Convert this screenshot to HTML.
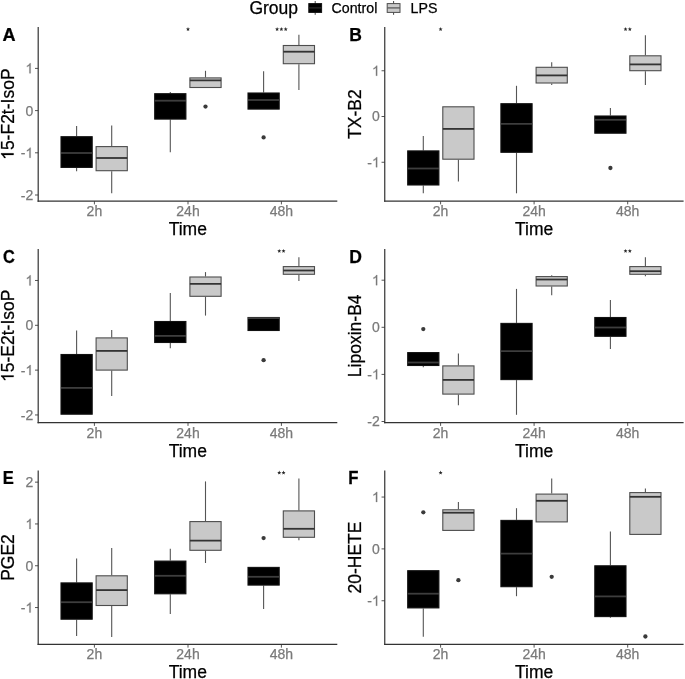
<!DOCTYPE html>
<html><head><meta charset="utf-8"><title>Box plots</title>
<style>
html,body{margin:0;padding:0;background:#fff;}
body{width:685px;height:679px;overflow:hidden;}
svg{display:block;font-family:"Liberation Sans", sans-serif;}
svg{filter:grayscale(1);}
text{stroke-width:0.25px;}
</style></head>
<body>
<svg width="685" height="679" viewBox="0 0 685 679">
<rect width="685" height="679" fill="#ffffff"/>
<text x="249.4" y="14.2" font-size="17.5" fill="#000" stroke="#000">Group</text>
<line x1="315.2" y1="1" x2="315.2" y2="14.8" stroke="#444" stroke-width="1"/><rect x="308.8" y="3.6" width="12.8" height="8.8" fill="#000" stroke="#111111" stroke-width="1"/><line x1="308.8" y1="7.9" x2="321.6" y2="7.9" stroke="#262626" stroke-width="1.3"/>
<text x="331.6" y="12.9" font-size="14.2" fill="#000" stroke="#000">Control</text>
<line x1="393.6" y1="1" x2="393.6" y2="14.8" stroke="#444" stroke-width="1"/><rect x="387.2" y="3.6" width="12.8" height="8.8" fill="#c9c9c9" stroke="#4d4d4d" stroke-width="1"/><line x1="387.2" y1="7.9" x2="400" y2="7.9" stroke="#5a5a5a" stroke-width="1.3"/>
<text x="410.6" y="12.9" font-size="14.2" fill="#000" stroke="#000">LPS</text>
<text x="0" y="0" transform="translate(2.59,40.6) scale(1.035,1)" font-size="17.5" font-weight="bold" fill="#000" stroke="#000">A</text><g transform="translate(13.6,114.15) rotate(-90)"><path d="M763,0 L583,0 L583,1147 Q518,1085 412,1023 Q306,961 222,930 L222,1104 Q373,1175 486,1276 Q599,1377 646,1472 L763,1472 Z" transform="translate(-45.711,0.000) scale(0.008545,-0.008545)" fill="#000" stroke="#000" stroke-width="29.3" stroke-linejoin="round"/><text x="-35.98" y="0" font-size="17.5" fill="#000" stroke="#000">5-F2t-IsoP</text></g><text x="187.75" y="235.1" text-anchor="middle" font-size="17.5" fill="#000" stroke="#000">Time</text><line x1="35" y1="68.4" x2="38.2" y2="68.4" stroke="#555555" stroke-width="1.0"/><path d="M763,0 L583,0 L583,1147 Q518,1085 412,1023 Q306,961 222,930 L222,1104 Q373,1175 486,1276 Q599,1377 646,1472 L763,1472 Z" transform="translate(25.414,73.350) scale(0.006836,-0.006836)" fill="#7a7a7a" stroke="#7a7a7a" stroke-width="36.6" stroke-linejoin="round"/><line x1="35" y1="110.6" x2="38.2" y2="110.6" stroke="#555555" stroke-width="1.0"/><text x="33.2" y="115.55" text-anchor="end" font-size="14.0" fill="#7a7a7a" stroke="#7a7a7a">0</text><line x1="35" y1="152.8" x2="38.2" y2="152.8" stroke="#555555" stroke-width="1.0"/><path d="M763,0 L583,0 L583,1147 Q518,1085 412,1023 Q306,961 222,930 L222,1104 Q373,1175 486,1276 Q599,1377 646,1472 L763,1472 Z" transform="translate(25.414,157.750) scale(0.006836,-0.006836)" fill="#7a7a7a" stroke="#7a7a7a" stroke-width="36.6" stroke-linejoin="round"/><text x="25.41" y="158.45" text-anchor="end" font-size="14.0" fill="#7a7a7a" stroke="#7a7a7a">-</text><line x1="35" y1="195" x2="38.2" y2="195" stroke="#555555" stroke-width="1.0"/><text x="33.2" y="199.95" text-anchor="end" font-size="14.0" fill="#7a7a7a" stroke="#7a7a7a">2</text><text x="25.41" y="200.65" text-anchor="end" font-size="14.0" fill="#7a7a7a" stroke="#7a7a7a">-</text><line x1="94.4" y1="201.2" x2="94.4" y2="204.4" stroke="#555555" stroke-width="1.0"/><text x="94.4" y="216.2" text-anchor="middle" font-size="14.0" fill="#7a7a7a" stroke="#7a7a7a">2h</text><line x1="188" y1="201.2" x2="188" y2="204.4" stroke="#555555" stroke-width="1.0"/><text x="188" y="216.2" text-anchor="middle" font-size="14.0" fill="#7a7a7a" stroke="#7a7a7a">24h</text><line x1="281.4" y1="201.2" x2="281.4" y2="204.4" stroke="#555555" stroke-width="1.0"/><text x="281.4" y="216.2" text-anchor="middle" font-size="14.0" fill="#7a7a7a" stroke="#7a7a7a">48h</text><line x1="76.6" y1="125.9" x2="76.6" y2="136.2" stroke="#555555" stroke-width="1.1"/><line x1="76.6" y1="167.9" x2="76.6" y2="171.2" stroke="#555555" stroke-width="1.1"/><rect x="61" y="136.7" width="31.2" height="30.7" fill="#000" stroke="#111111" stroke-width="1.1"/><line x1="61" y1="153" x2="92.2" y2="153" stroke="#3d3d3d" stroke-width="1.8"/><line x1="111.7" y1="125.5" x2="111.7" y2="146.1" stroke="#555555" stroke-width="1.1"/><line x1="111.7" y1="171.2" x2="111.7" y2="193.3" stroke="#555555" stroke-width="1.1"/><rect x="96.1" y="146.6" width="31.2" height="24.1" fill="#c9c9c9" stroke="#4d4d4d" stroke-width="1.1"/><line x1="96.1" y1="158" x2="127.3" y2="158" stroke="#333333" stroke-width="1.8"/><line x1="170.3" y1="91.9" x2="170.3" y2="93.2" stroke="#555555" stroke-width="1.1"/><line x1="170.3" y1="119.6" x2="170.3" y2="152.3" stroke="#555555" stroke-width="1.1"/><rect x="154.7" y="93.7" width="31.2" height="25.4" fill="#000" stroke="#111111" stroke-width="1.1"/><line x1="154.7" y1="100.7" x2="185.9" y2="100.7" stroke="#3d3d3d" stroke-width="1.8"/><line x1="205.5" y1="70.8" x2="205.5" y2="77.4" stroke="#555555" stroke-width="1.1"/><rect x="189.9" y="77.9" width="31.2" height="9.6" fill="#c9c9c9" stroke="#4d4d4d" stroke-width="1.1"/><line x1="189.9" y1="80.4" x2="221.1" y2="80.4" stroke="#333333" stroke-width="1.8"/><circle cx="205.5" cy="106.6" r="2.15" fill="#3a3a3a"/><line x1="263.6" y1="71.3" x2="263.6" y2="92.5" stroke="#555555" stroke-width="1.1"/><rect x="248" y="93" width="31.2" height="16.1" fill="#000" stroke="#111111" stroke-width="1.1"/><line x1="248" y1="100" x2="279.2" y2="100" stroke="#3d3d3d" stroke-width="1.8"/><circle cx="263.6" cy="137.4" r="2.15" fill="#3a3a3a"/><line x1="298.9" y1="34.7" x2="298.9" y2="45" stroke="#555555" stroke-width="1.1"/><line x1="298.9" y1="64.2" x2="298.9" y2="90" stroke="#555555" stroke-width="1.1"/><rect x="283.3" y="45.5" width="31.2" height="18.2" fill="#c9c9c9" stroke="#4d4d4d" stroke-width="1.1"/><line x1="283.3" y1="51.7" x2="314.5" y2="51.7" stroke="#333333" stroke-width="1.8"/><polygon points="188.00,27.10 188.56,28.44 190.00,28.55 188.90,29.49 189.23,30.90 188.00,30.14 186.77,30.90 187.10,29.49 186.00,28.55 187.44,28.44" fill="#2a2a2a"/><polygon points="277.10,27.10 277.66,28.44 279.10,28.55 278.00,29.49 278.33,30.90 277.10,30.14 275.87,30.90 276.20,29.49 275.10,28.55 276.54,28.44" fill="#2a2a2a"/><polygon points="281.40,27.10 281.96,28.44 283.40,28.55 282.30,29.49 282.63,30.90 281.40,30.14 280.17,30.90 280.50,29.49 279.40,28.55 280.84,28.44" fill="#2a2a2a"/><polygon points="285.70,27.10 286.26,28.44 287.70,28.55 286.60,29.49 286.93,30.90 285.70,30.14 284.47,30.90 284.80,29.49 283.70,28.55 285.14,28.44" fill="#2a2a2a"/><line x1="38.2" y1="27.1" x2="38.2" y2="201.8" stroke="#333333" stroke-width="1.2"/><line x1="37.6" y1="201.2" x2="337.3" y2="201.2" stroke="#333333" stroke-width="1.2"/>
<text x="0" y="0" transform="translate(349.2,40.6) scale(1.0,1)" font-size="17.5" font-weight="bold" fill="#000" stroke="#000">B</text><text x="0" y="0" transform="translate(360.8,114.15) rotate(-90)" text-anchor="middle" font-size="17.5" fill="#000" stroke="#000">TX-B2</text><text x="534.17" y="235.1" text-anchor="middle" font-size="17.5" fill="#000" stroke="#000">Time</text><line x1="381.55" y1="70.75" x2="384.75" y2="70.75" stroke="#555555" stroke-width="1.0"/><path d="M763,0 L583,0 L583,1147 Q518,1085 412,1023 Q306,961 222,930 L222,1104 Q373,1175 486,1276 Q599,1377 646,1472 L763,1472 Z" transform="translate(371.964,75.700) scale(0.006836,-0.006836)" fill="#7a7a7a" stroke="#7a7a7a" stroke-width="36.6" stroke-linejoin="round"/><line x1="381.55" y1="116.5" x2="384.75" y2="116.5" stroke="#555555" stroke-width="1.0"/><text x="379.75" y="121.45" text-anchor="end" font-size="14.0" fill="#7a7a7a" stroke="#7a7a7a">0</text><line x1="381.55" y1="162.25" x2="384.75" y2="162.25" stroke="#555555" stroke-width="1.0"/><path d="M763,0 L583,0 L583,1147 Q518,1085 412,1023 Q306,961 222,930 L222,1104 Q373,1175 486,1276 Q599,1377 646,1472 L763,1472 Z" transform="translate(371.964,167.200) scale(0.006836,-0.006836)" fill="#7a7a7a" stroke="#7a7a7a" stroke-width="36.6" stroke-linejoin="round"/><text x="371.96" y="167.9" text-anchor="end" font-size="14.0" fill="#7a7a7a" stroke="#7a7a7a">-</text><line x1="440.6" y1="201.2" x2="440.6" y2="204.4" stroke="#555555" stroke-width="1.0"/><text x="440.6" y="216.2" text-anchor="middle" font-size="14.0" fill="#7a7a7a" stroke="#7a7a7a">2h</text><line x1="534.1" y1="201.2" x2="534.1" y2="204.4" stroke="#555555" stroke-width="1.0"/><text x="534.1" y="216.2" text-anchor="middle" font-size="14.0" fill="#7a7a7a" stroke="#7a7a7a">24h</text><line x1="627.7" y1="201.2" x2="627.7" y2="204.4" stroke="#555555" stroke-width="1.0"/><text x="627.7" y="216.2" text-anchor="middle" font-size="14.0" fill="#7a7a7a" stroke="#7a7a7a">48h</text><line x1="423.3" y1="136.1" x2="423.3" y2="150.4" stroke="#555555" stroke-width="1.1"/><line x1="423.3" y1="185.5" x2="423.3" y2="193.3" stroke="#555555" stroke-width="1.1"/><rect x="407.7" y="150.9" width="31.2" height="34.1" fill="#000" stroke="#111111" stroke-width="1.1"/><line x1="407.7" y1="168.5" x2="438.9" y2="168.5" stroke="#3d3d3d" stroke-width="1.8"/><line x1="458.4" y1="159.7" x2="458.4" y2="181.5" stroke="#555555" stroke-width="1.1"/><rect x="442.8" y="106.8" width="31.2" height="52.4" fill="#c9c9c9" stroke="#4d4d4d" stroke-width="1.1"/><line x1="442.8" y1="128.9" x2="474" y2="128.9" stroke="#333333" stroke-width="1.8"/><line x1="516.5" y1="85.8" x2="516.5" y2="103.2" stroke="#555555" stroke-width="1.1"/><line x1="516.5" y1="152.8" x2="516.5" y2="193.3" stroke="#555555" stroke-width="1.1"/><rect x="500.9" y="103.7" width="31.2" height="48.6" fill="#000" stroke="#111111" stroke-width="1.1"/><line x1="500.9" y1="123.9" x2="532.1" y2="123.9" stroke="#3d3d3d" stroke-width="1.8"/><line x1="551.7" y1="62.3" x2="551.7" y2="66.8" stroke="#555555" stroke-width="1.1"/><line x1="551.7" y1="83.5" x2="551.7" y2="85" stroke="#555555" stroke-width="1.1"/><rect x="536.1" y="67.3" width="31.2" height="15.7" fill="#c9c9c9" stroke="#4d4d4d" stroke-width="1.1"/><line x1="536.1" y1="75.4" x2="567.3" y2="75.4" stroke="#333333" stroke-width="1.8"/><line x1="610.4" y1="108" x2="610.4" y2="115.5" stroke="#555555" stroke-width="1.1"/><rect x="594.8" y="116" width="31.2" height="17.2" fill="#000" stroke="#111111" stroke-width="1.1"/><line x1="594.8" y1="119.8" x2="626" y2="119.8" stroke="#3d3d3d" stroke-width="1.8"/><circle cx="610.4" cy="168" r="2.15" fill="#3a3a3a"/><line x1="645.4" y1="35.2" x2="645.4" y2="55.3" stroke="#555555" stroke-width="1.1"/><line x1="645.4" y1="71.2" x2="645.4" y2="85.1" stroke="#555555" stroke-width="1.1"/><rect x="629.8" y="55.8" width="31.2" height="14.9" fill="#c9c9c9" stroke="#4d4d4d" stroke-width="1.1"/><line x1="629.8" y1="64.4" x2="661" y2="64.4" stroke="#333333" stroke-width="1.8"/><polygon points="440.60,27.10 441.16,28.44 442.60,28.55 441.50,29.49 441.83,30.90 440.60,30.14 439.37,30.90 439.70,29.49 438.60,28.55 440.04,28.44" fill="#2a2a2a"/><polygon points="625.55,27.10 626.11,28.44 627.55,28.55 626.45,29.49 626.78,30.90 625.55,30.14 624.32,30.90 624.65,29.49 623.55,28.55 624.99,28.44" fill="#2a2a2a"/><polygon points="629.85,27.10 630.41,28.44 631.85,28.55 630.75,29.49 631.08,30.90 629.85,30.14 628.62,30.90 628.95,29.49 627.85,28.55 629.29,28.44" fill="#2a2a2a"/><line x1="384.75" y1="27.1" x2="384.75" y2="201.8" stroke="#333333" stroke-width="1.2"/><line x1="384.15" y1="201.2" x2="683.6" y2="201.2" stroke="#333333" stroke-width="1.2"/>
<text x="0" y="0" transform="translate(2.94,262.6) scale(0.937,1)" font-size="17.5" font-weight="bold" fill="#000" stroke="#000">C</text><g transform="translate(13.6,335.8) rotate(-90)"><path d="M763,0 L583,0 L583,1147 Q518,1085 412,1023 Q306,961 222,930 L222,1104 Q373,1175 486,1276 Q599,1377 646,1472 L763,1472 Z" transform="translate(-46.202,0.000) scale(0.008545,-0.008545)" fill="#000" stroke="#000" stroke-width="29.3" stroke-linejoin="round"/><text x="-36.47" y="0" font-size="17.5" fill="#000" stroke="#000">5-E2t-IsoP</text></g><text x="187.75" y="456.6" text-anchor="middle" font-size="17.5" fill="#000" stroke="#000">Time</text><line x1="35" y1="280.47" x2="38.2" y2="280.47" stroke="#555555" stroke-width="1.0"/><path d="M763,0 L583,0 L583,1147 Q518,1085 412,1023 Q306,961 222,930 L222,1104 Q373,1175 486,1276 Q599,1377 646,1472 L763,1472 Z" transform="translate(25.414,285.420) scale(0.006836,-0.006836)" fill="#7a7a7a" stroke="#7a7a7a" stroke-width="36.6" stroke-linejoin="round"/><line x1="35" y1="325.3" x2="38.2" y2="325.3" stroke="#555555" stroke-width="1.0"/><text x="33.2" y="330.25" text-anchor="end" font-size="14.0" fill="#7a7a7a" stroke="#7a7a7a">0</text><line x1="35" y1="370.13" x2="38.2" y2="370.13" stroke="#555555" stroke-width="1.0"/><path d="M763,0 L583,0 L583,1147 Q518,1085 412,1023 Q306,961 222,930 L222,1104 Q373,1175 486,1276 Q599,1377 646,1472 L763,1472 Z" transform="translate(25.414,375.080) scale(0.006836,-0.006836)" fill="#7a7a7a" stroke="#7a7a7a" stroke-width="36.6" stroke-linejoin="round"/><text x="25.41" y="375.78" text-anchor="end" font-size="14.0" fill="#7a7a7a" stroke="#7a7a7a">-</text><line x1="35" y1="414.96" x2="38.2" y2="414.96" stroke="#555555" stroke-width="1.0"/><text x="33.2" y="419.91" text-anchor="end" font-size="14.0" fill="#7a7a7a" stroke="#7a7a7a">2</text><text x="25.41" y="420.61" text-anchor="end" font-size="14.0" fill="#7a7a7a" stroke="#7a7a7a">-</text><line x1="94.4" y1="422.7" x2="94.4" y2="425.9" stroke="#555555" stroke-width="1.0"/><text x="94.4" y="437.7" text-anchor="middle" font-size="14.0" fill="#7a7a7a" stroke="#7a7a7a">2h</text><line x1="188" y1="422.7" x2="188" y2="425.9" stroke="#555555" stroke-width="1.0"/><text x="188" y="437.7" text-anchor="middle" font-size="14.0" fill="#7a7a7a" stroke="#7a7a7a">24h</text><line x1="281.4" y1="422.7" x2="281.4" y2="425.9" stroke="#555555" stroke-width="1.0"/><text x="281.4" y="437.7" text-anchor="middle" font-size="14.0" fill="#7a7a7a" stroke="#7a7a7a">48h</text><line x1="76.6" y1="330.6" x2="76.6" y2="354" stroke="#555555" stroke-width="1.1"/><rect x="61" y="354.5" width="31.2" height="59.7" fill="#000" stroke="#111111" stroke-width="1.1"/><line x1="61" y1="387.9" x2="92.2" y2="387.9" stroke="#3d3d3d" stroke-width="1.8"/><line x1="111.7" y1="330.1" x2="111.7" y2="337.4" stroke="#555555" stroke-width="1.1"/><line x1="111.7" y1="370.6" x2="111.7" y2="396" stroke="#555555" stroke-width="1.1"/><rect x="96.1" y="337.9" width="31.2" height="32.2" fill="#c9c9c9" stroke="#4d4d4d" stroke-width="1.1"/><line x1="96.1" y1="350.9" x2="127.3" y2="350.9" stroke="#333333" stroke-width="1.8"/><line x1="170.3" y1="293" x2="170.3" y2="321" stroke="#555555" stroke-width="1.1"/><line x1="170.3" y1="343" x2="170.3" y2="348.2" stroke="#555555" stroke-width="1.1"/><rect x="154.7" y="321.5" width="31.2" height="21" fill="#000" stroke="#111111" stroke-width="1.1"/><line x1="154.7" y1="335.9" x2="185.9" y2="335.9" stroke="#3d3d3d" stroke-width="1.8"/><line x1="205.5" y1="272.1" x2="205.5" y2="276.5" stroke="#555555" stroke-width="1.1"/><line x1="205.5" y1="296.8" x2="205.5" y2="315.6" stroke="#555555" stroke-width="1.1"/><rect x="189.9" y="277" width="31.2" height="19.3" fill="#c9c9c9" stroke="#4d4d4d" stroke-width="1.1"/><line x1="189.9" y1="283.9" x2="221.1" y2="283.9" stroke="#333333" stroke-width="1.8"/><rect x="248" y="317.5" width="31.2" height="13" fill="#000" stroke="#111111" stroke-width="1.1"/><line x1="248" y1="318.1" x2="279.2" y2="318.1" stroke="#3d3d3d" stroke-width="1.8"/><circle cx="263.6" cy="360.2" r="2.15" fill="#3a3a3a"/><line x1="298.9" y1="257.2" x2="298.9" y2="266.1" stroke="#555555" stroke-width="1.1"/><line x1="298.9" y1="274.8" x2="298.9" y2="281" stroke="#555555" stroke-width="1.1"/><rect x="283.3" y="266.6" width="31.2" height="7.7" fill="#c9c9c9" stroke="#4d4d4d" stroke-width="1.1"/><line x1="283.3" y1="270.5" x2="314.5" y2="270.5" stroke="#333333" stroke-width="1.8"/><polygon points="279.25,248.90 279.81,250.24 281.25,250.35 280.15,251.29 280.48,252.70 279.25,251.94 278.02,252.70 278.35,251.29 277.25,250.35 278.69,250.24" fill="#2a2a2a"/><polygon points="283.55,248.90 284.11,250.24 285.55,250.35 284.45,251.29 284.78,252.70 283.55,251.94 282.32,252.70 282.65,251.29 281.55,250.35 282.99,250.24" fill="#2a2a2a"/><line x1="38.2" y1="248.9" x2="38.2" y2="423.3" stroke="#333333" stroke-width="1.2"/><line x1="37.6" y1="422.7" x2="337.3" y2="422.7" stroke="#333333" stroke-width="1.2"/>
<text x="0" y="0" transform="translate(349.2,262.6) scale(1.0,1)" font-size="17.5" font-weight="bold" fill="#000" stroke="#000">D</text><text x="0" y="0" transform="translate(360.8,335.8) rotate(-90)" text-anchor="middle" font-size="17.5" fill="#000" stroke="#000">Lipoxin-B4</text><text x="534.17" y="456.6" text-anchor="middle" font-size="17.5" fill="#000" stroke="#000">Time</text><line x1="381.55" y1="280.2" x2="384.75" y2="280.2" stroke="#555555" stroke-width="1.0"/><path d="M763,0 L583,0 L583,1147 Q518,1085 412,1023 Q306,961 222,930 L222,1104 Q373,1175 486,1276 Q599,1377 646,1472 L763,1472 Z" transform="translate(371.964,285.150) scale(0.006836,-0.006836)" fill="#7a7a7a" stroke="#7a7a7a" stroke-width="36.6" stroke-linejoin="round"/><line x1="381.55" y1="327.3" x2="384.75" y2="327.3" stroke="#555555" stroke-width="1.0"/><text x="379.75" y="332.25" text-anchor="end" font-size="14.0" fill="#7a7a7a" stroke="#7a7a7a">0</text><line x1="381.55" y1="374.4" x2="384.75" y2="374.4" stroke="#555555" stroke-width="1.0"/><path d="M763,0 L583,0 L583,1147 Q518,1085 412,1023 Q306,961 222,930 L222,1104 Q373,1175 486,1276 Q599,1377 646,1472 L763,1472 Z" transform="translate(371.964,379.350) scale(0.006836,-0.006836)" fill="#7a7a7a" stroke="#7a7a7a" stroke-width="36.6" stroke-linejoin="round"/><text x="371.96" y="380.05" text-anchor="end" font-size="14.0" fill="#7a7a7a" stroke="#7a7a7a">-</text><line x1="381.55" y1="421.5" x2="384.75" y2="421.5" stroke="#555555" stroke-width="1.0"/><text x="379.75" y="426.45" text-anchor="end" font-size="14.0" fill="#7a7a7a" stroke="#7a7a7a">2</text><text x="371.96" y="427.15" text-anchor="end" font-size="14.0" fill="#7a7a7a" stroke="#7a7a7a">-</text><line x1="440.6" y1="422.7" x2="440.6" y2="425.9" stroke="#555555" stroke-width="1.0"/><text x="440.6" y="437.7" text-anchor="middle" font-size="14.0" fill="#7a7a7a" stroke="#7a7a7a">2h</text><line x1="534.1" y1="422.7" x2="534.1" y2="425.9" stroke="#555555" stroke-width="1.0"/><text x="534.1" y="437.7" text-anchor="middle" font-size="14.0" fill="#7a7a7a" stroke="#7a7a7a">24h</text><line x1="627.7" y1="422.7" x2="627.7" y2="425.9" stroke="#555555" stroke-width="1.0"/><text x="627.7" y="437.7" text-anchor="middle" font-size="14.0" fill="#7a7a7a" stroke="#7a7a7a">48h</text><line x1="423.3" y1="366" x2="423.3" y2="367.3" stroke="#555555" stroke-width="1.1"/><rect x="407.7" y="352.6" width="31.2" height="12.9" fill="#000" stroke="#111111" stroke-width="1.1"/><line x1="407.7" y1="362.5" x2="438.9" y2="362.5" stroke="#3d3d3d" stroke-width="1.8"/><circle cx="423.3" cy="329.1" r="2.15" fill="#3a3a3a"/><line x1="458.4" y1="353.6" x2="458.4" y2="365.4" stroke="#555555" stroke-width="1.1"/><line x1="458.4" y1="394.6" x2="458.4" y2="405.2" stroke="#555555" stroke-width="1.1"/><rect x="442.8" y="365.9" width="31.2" height="28.2" fill="#c9c9c9" stroke="#4d4d4d" stroke-width="1.1"/><line x1="442.8" y1="379.9" x2="474" y2="379.9" stroke="#333333" stroke-width="1.8"/><line x1="516.5" y1="288.9" x2="516.5" y2="322.9" stroke="#555555" stroke-width="1.1"/><line x1="516.5" y1="380.1" x2="516.5" y2="414.8" stroke="#555555" stroke-width="1.1"/><rect x="500.9" y="323.4" width="31.2" height="56.2" fill="#000" stroke="#111111" stroke-width="1.1"/><line x1="500.9" y1="351.2" x2="532.1" y2="351.2" stroke="#3d3d3d" stroke-width="1.8"/><line x1="551.7" y1="275.3" x2="551.7" y2="276.1" stroke="#555555" stroke-width="1.1"/><line x1="551.7" y1="286.5" x2="551.7" y2="295.3" stroke="#555555" stroke-width="1.1"/><rect x="536.1" y="276.6" width="31.2" height="9.4" fill="#c9c9c9" stroke="#4d4d4d" stroke-width="1.1"/><line x1="536.1" y1="279.5" x2="567.3" y2="279.5" stroke="#333333" stroke-width="1.8"/><line x1="610.4" y1="300.1" x2="610.4" y2="317" stroke="#555555" stroke-width="1.1"/><line x1="610.4" y1="336.8" x2="610.4" y2="348.9" stroke="#555555" stroke-width="1.1"/><rect x="594.8" y="317.5" width="31.2" height="18.8" fill="#000" stroke="#111111" stroke-width="1.1"/><line x1="594.8" y1="327.5" x2="626" y2="327.5" stroke="#3d3d3d" stroke-width="1.8"/><line x1="645.4" y1="257.2" x2="645.4" y2="266.1" stroke="#555555" stroke-width="1.1"/><line x1="645.4" y1="274.8" x2="645.4" y2="276.3" stroke="#555555" stroke-width="1.1"/><rect x="629.8" y="266.6" width="31.2" height="7.7" fill="#c9c9c9" stroke="#4d4d4d" stroke-width="1.1"/><line x1="629.8" y1="271.2" x2="661" y2="271.2" stroke="#333333" stroke-width="1.8"/><polygon points="625.55,248.90 626.11,250.24 627.55,250.35 626.45,251.29 626.78,252.70 625.55,251.94 624.32,252.70 624.65,251.29 623.55,250.35 624.99,250.24" fill="#2a2a2a"/><polygon points="629.85,248.90 630.41,250.24 631.85,250.35 630.75,251.29 631.08,252.70 629.85,251.94 628.62,252.70 628.95,251.29 627.85,250.35 629.29,250.24" fill="#2a2a2a"/><line x1="384.75" y1="248.9" x2="384.75" y2="423.3" stroke="#333333" stroke-width="1.2"/><line x1="384.15" y1="422.7" x2="683.6" y2="422.7" stroke="#333333" stroke-width="1.2"/>
<text x="0" y="0" transform="translate(2.68,484.1) scale(0.947,1)" font-size="17.5" font-weight="bold" fill="#000" stroke="#000">E</text><text x="0" y="0" transform="translate(13.6,557.53) rotate(-90)" text-anchor="middle" font-size="17.5" fill="#000" stroke="#000">PGE2</text><text x="187.75" y="678.35" text-anchor="middle" font-size="17.5" fill="#000" stroke="#000">Time</text><line x1="35" y1="482.15" x2="38.2" y2="482.15" stroke="#555555" stroke-width="1.0"/><text x="33.2" y="487.1" text-anchor="end" font-size="14.0" fill="#7a7a7a" stroke="#7a7a7a">2</text><line x1="35" y1="523.95" x2="38.2" y2="523.95" stroke="#555555" stroke-width="1.0"/><path d="M763,0 L583,0 L583,1147 Q518,1085 412,1023 Q306,961 222,930 L222,1104 Q373,1175 486,1276 Q599,1377 646,1472 L763,1472 Z" transform="translate(25.414,528.900) scale(0.006836,-0.006836)" fill="#7a7a7a" stroke="#7a7a7a" stroke-width="36.6" stroke-linejoin="round"/><line x1="35" y1="565.75" x2="38.2" y2="565.75" stroke="#555555" stroke-width="1.0"/><text x="33.2" y="570.7" text-anchor="end" font-size="14.0" fill="#7a7a7a" stroke="#7a7a7a">0</text><line x1="35" y1="607.55" x2="38.2" y2="607.55" stroke="#555555" stroke-width="1.0"/><path d="M763,0 L583,0 L583,1147 Q518,1085 412,1023 Q306,961 222,930 L222,1104 Q373,1175 486,1276 Q599,1377 646,1472 L763,1472 Z" transform="translate(25.414,612.500) scale(0.006836,-0.006836)" fill="#7a7a7a" stroke="#7a7a7a" stroke-width="36.6" stroke-linejoin="round"/><text x="25.41" y="613.2" text-anchor="end" font-size="14.0" fill="#7a7a7a" stroke="#7a7a7a">-</text><line x1="94.4" y1="644.45" x2="94.4" y2="647.65" stroke="#555555" stroke-width="1.0"/><text x="94.4" y="659.45" text-anchor="middle" font-size="14.0" fill="#7a7a7a" stroke="#7a7a7a">2h</text><line x1="188" y1="644.45" x2="188" y2="647.65" stroke="#555555" stroke-width="1.0"/><text x="188" y="659.45" text-anchor="middle" font-size="14.0" fill="#7a7a7a" stroke="#7a7a7a">24h</text><line x1="281.4" y1="644.45" x2="281.4" y2="647.65" stroke="#555555" stroke-width="1.0"/><text x="281.4" y="659.45" text-anchor="middle" font-size="14.0" fill="#7a7a7a" stroke="#7a7a7a">48h</text><line x1="76.6" y1="558.4" x2="76.6" y2="582.4" stroke="#555555" stroke-width="1.1"/><line x1="76.6" y1="619.7" x2="76.6" y2="635.9" stroke="#555555" stroke-width="1.1"/><rect x="61" y="582.9" width="31.2" height="36.3" fill="#000" stroke="#111111" stroke-width="1.1"/><line x1="61" y1="602.2" x2="92.2" y2="602.2" stroke="#3d3d3d" stroke-width="1.8"/><line x1="111.7" y1="548.1" x2="111.7" y2="575.3" stroke="#555555" stroke-width="1.1"/><line x1="111.7" y1="606" x2="111.7" y2="637" stroke="#555555" stroke-width="1.1"/><rect x="96.1" y="575.8" width="31.2" height="29.7" fill="#c9c9c9" stroke="#4d4d4d" stroke-width="1.1"/><line x1="96.1" y1="590.1" x2="127.3" y2="590.1" stroke="#333333" stroke-width="1.8"/><line x1="170.3" y1="548.8" x2="170.3" y2="560.6" stroke="#555555" stroke-width="1.1"/><line x1="170.3" y1="594.3" x2="170.3" y2="614.1" stroke="#555555" stroke-width="1.1"/><rect x="154.7" y="561.1" width="31.2" height="32.7" fill="#000" stroke="#111111" stroke-width="1.1"/><line x1="154.7" y1="575.8" x2="185.9" y2="575.8" stroke="#3d3d3d" stroke-width="1.8"/><line x1="205.5" y1="481.4" x2="205.5" y2="521.1" stroke="#555555" stroke-width="1.1"/><line x1="205.5" y1="550.8" x2="205.5" y2="563" stroke="#555555" stroke-width="1.1"/><rect x="189.9" y="521.6" width="31.2" height="28.7" fill="#c9c9c9" stroke="#4d4d4d" stroke-width="1.1"/><line x1="189.9" y1="540.7" x2="221.1" y2="540.7" stroke="#333333" stroke-width="1.8"/><line x1="263.6" y1="585.6" x2="263.6" y2="609.1" stroke="#555555" stroke-width="1.1"/><rect x="248" y="567.4" width="31.2" height="17.7" fill="#000" stroke="#111111" stroke-width="1.1"/><line x1="248" y1="576.8" x2="279.2" y2="576.8" stroke="#3d3d3d" stroke-width="1.8"/><circle cx="263.6" cy="538.1" r="2.15" fill="#3a3a3a"/><line x1="298.9" y1="478.4" x2="298.9" y2="510.4" stroke="#555555" stroke-width="1.1"/><line x1="298.9" y1="537.8" x2="298.9" y2="540.3" stroke="#555555" stroke-width="1.1"/><rect x="283.3" y="510.9" width="31.2" height="26.4" fill="#c9c9c9" stroke="#4d4d4d" stroke-width="1.1"/><line x1="283.3" y1="528.8" x2="314.5" y2="528.8" stroke="#333333" stroke-width="1.8"/><polygon points="279.25,470.60 279.81,471.94 281.25,472.05 280.15,472.99 280.48,474.40 279.25,473.64 278.02,474.40 278.35,472.99 277.25,472.05 278.69,471.94" fill="#2a2a2a"/><polygon points="283.55,470.60 284.11,471.94 285.55,472.05 284.45,472.99 284.78,474.40 283.55,473.64 282.32,474.40 282.65,472.99 281.55,472.05 282.99,471.94" fill="#2a2a2a"/><line x1="38.2" y1="470.6" x2="38.2" y2="645.05" stroke="#333333" stroke-width="1.2"/><line x1="37.6" y1="644.45" x2="337.3" y2="644.45" stroke="#333333" stroke-width="1.2"/>
<text x="0" y="0" transform="translate(348.17,484.1) scale(0.954,1)" font-size="17.5" font-weight="bold" fill="#000" stroke="#000">F</text><text x="0" y="0" transform="translate(360.8,557.53) rotate(-90)" text-anchor="middle" font-size="17.5" fill="#000" stroke="#000">20-HETE</text><text x="534.17" y="678.35" text-anchor="middle" font-size="17.5" fill="#000" stroke="#000">Time</text><line x1="381.55" y1="497.05" x2="384.75" y2="497.05" stroke="#555555" stroke-width="1.0"/><path d="M763,0 L583,0 L583,1147 Q518,1085 412,1023 Q306,961 222,930 L222,1104 Q373,1175 486,1276 Q599,1377 646,1472 L763,1472 Z" transform="translate(371.964,502.000) scale(0.006836,-0.006836)" fill="#7a7a7a" stroke="#7a7a7a" stroke-width="36.6" stroke-linejoin="round"/><line x1="381.55" y1="548.9" x2="384.75" y2="548.9" stroke="#555555" stroke-width="1.0"/><text x="379.75" y="553.85" text-anchor="end" font-size="14.0" fill="#7a7a7a" stroke="#7a7a7a">0</text><line x1="381.55" y1="600.75" x2="384.75" y2="600.75" stroke="#555555" stroke-width="1.0"/><path d="M763,0 L583,0 L583,1147 Q518,1085 412,1023 Q306,961 222,930 L222,1104 Q373,1175 486,1276 Q599,1377 646,1472 L763,1472 Z" transform="translate(371.964,605.700) scale(0.006836,-0.006836)" fill="#7a7a7a" stroke="#7a7a7a" stroke-width="36.6" stroke-linejoin="round"/><text x="371.96" y="606.4" text-anchor="end" font-size="14.0" fill="#7a7a7a" stroke="#7a7a7a">-</text><line x1="440.6" y1="644.45" x2="440.6" y2="647.65" stroke="#555555" stroke-width="1.0"/><text x="440.6" y="659.45" text-anchor="middle" font-size="14.0" fill="#7a7a7a" stroke="#7a7a7a">2h</text><line x1="534.1" y1="644.45" x2="534.1" y2="647.65" stroke="#555555" stroke-width="1.0"/><text x="534.1" y="659.45" text-anchor="middle" font-size="14.0" fill="#7a7a7a" stroke="#7a7a7a">24h</text><line x1="627.7" y1="644.45" x2="627.7" y2="647.65" stroke="#555555" stroke-width="1.0"/><text x="627.7" y="659.45" text-anchor="middle" font-size="14.0" fill="#7a7a7a" stroke="#7a7a7a">48h</text><line x1="423.3" y1="608.4" x2="423.3" y2="636.7" stroke="#555555" stroke-width="1.1"/><rect x="407.7" y="570.7" width="31.2" height="37.2" fill="#000" stroke="#111111" stroke-width="1.1"/><line x1="407.7" y1="593.7" x2="438.9" y2="593.7" stroke="#3d3d3d" stroke-width="1.8"/><circle cx="423.3" cy="512.3" r="2.15" fill="#3a3a3a"/><line x1="458.4" y1="502.1" x2="458.4" y2="509.3" stroke="#555555" stroke-width="1.1"/><rect x="442.8" y="509.8" width="31.2" height="20.6" fill="#c9c9c9" stroke="#4d4d4d" stroke-width="1.1"/><line x1="442.8" y1="512.7" x2="474" y2="512.7" stroke="#333333" stroke-width="1.8"/><circle cx="458.4" cy="580.2" r="2.15" fill="#3a3a3a"/><line x1="516.5" y1="508.2" x2="516.5" y2="519.9" stroke="#555555" stroke-width="1.1"/><line x1="516.5" y1="587.2" x2="516.5" y2="596.2" stroke="#555555" stroke-width="1.1"/><rect x="500.9" y="520.4" width="31.2" height="66.3" fill="#000" stroke="#111111" stroke-width="1.1"/><line x1="500.9" y1="553.6" x2="532.1" y2="553.6" stroke="#3d3d3d" stroke-width="1.8"/><line x1="551.7" y1="478.4" x2="551.7" y2="493.6" stroke="#555555" stroke-width="1.1"/><rect x="536.1" y="494.1" width="31.2" height="27.8" fill="#c9c9c9" stroke="#4d4d4d" stroke-width="1.1"/><line x1="536.1" y1="500.8" x2="567.3" y2="500.8" stroke="#333333" stroke-width="1.8"/><circle cx="551.7" cy="576.8" r="2.15" fill="#3a3a3a"/><line x1="610.4" y1="531.4" x2="610.4" y2="565.3" stroke="#555555" stroke-width="1.1"/><line x1="610.4" y1="617.1" x2="610.4" y2="617.8" stroke="#555555" stroke-width="1.1"/><rect x="594.8" y="565.8" width="31.2" height="50.8" fill="#000" stroke="#111111" stroke-width="1.1"/><line x1="594.8" y1="596.4" x2="626" y2="596.4" stroke="#3d3d3d" stroke-width="1.8"/><line x1="645.4" y1="488.4" x2="645.4" y2="492.1" stroke="#555555" stroke-width="1.1"/><rect x="629.8" y="492.6" width="31.2" height="41.8" fill="#c9c9c9" stroke="#4d4d4d" stroke-width="1.1"/><line x1="629.8" y1="496.8" x2="661" y2="496.8" stroke="#333333" stroke-width="1.8"/><circle cx="645.4" cy="636.5" r="2.15" fill="#3a3a3a"/><polygon points="440.60,470.60 441.16,471.94 442.60,472.05 441.50,472.99 441.83,474.40 440.60,473.64 439.37,474.40 439.70,472.99 438.60,472.05 440.04,471.94" fill="#2a2a2a"/><line x1="384.75" y1="470.6" x2="384.75" y2="645.05" stroke="#333333" stroke-width="1.2"/><line x1="384.15" y1="644.45" x2="683.6" y2="644.45" stroke="#333333" stroke-width="1.2"/>
</svg>
</body></html>
